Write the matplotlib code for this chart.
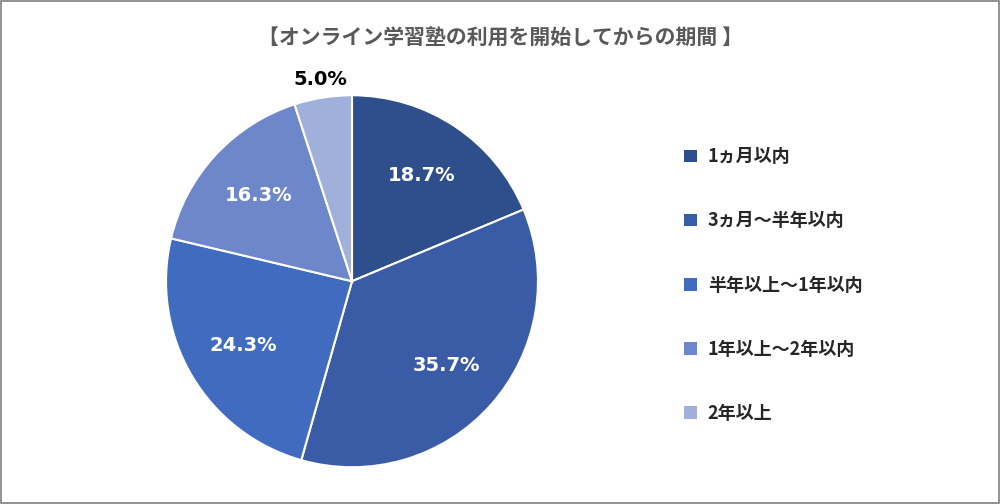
import matplotlib
matplotlib.use("Agg")
import matplotlib.pyplot as plt
from matplotlib.patches import Rectangle, Patch
import numpy as np

plt.rcParams['font.family'] = 'Noto Sans CJK JP'

categories = ["1ヵ月以内", "3ヵ月～半年以内", "半年以上～1年以内", "1年以上～2年以内", "2年以上"]
values = [18.7, 35.7, 24.3, 16.3, 5.0]
colors = ["#2E4F8C", "#3A5CA6", "#416BBF", "#6E87CB", "#A1AFDB"]
title = "【オンライン学習塾の利用を開始してからの期間 】"

fig = plt.figure(figsize=(10, 5.04), dpi=100)
fig.patches.append(Rectangle((0.001, 0.002), 0.998, 0.996, transform=fig.transFigure,
                             fill=False, edgecolor="#7f7f7f", linewidth=1.2))
fig.text(0.5, 0.925, title, ha="center", va="center", fontsize=15,
         fontweight="bold", color="#595959")

ax = fig.add_axes([0.352 - 0.186, 0.442 - 0.369, 0.372, 0.738])
wedges, _ = ax.pie(values, colors=colors, startangle=90, counterclock=False,
                   wedgeprops=dict(edgecolor="white", linewidth=1.5))
ang = 90.0
for w, v in zip(wedges, values):
    mid = np.deg2rad(ang - v * 3.6 / 2)
    ang -= v * 3.6
    if v < 8:
        r, col = 1.1, "black"
    else:
        r, col = 0.68, "white"
    ax.text(r * np.cos(mid), r * np.sin(mid), f"{v:.1f}%", ha="center", va="center",
            fontsize=14, fontweight="bold", color=col, fontfamily="DejaVu Sans")
ax.set_xlim(-1, 1)
ax.set_ylim(-1, 1)
ax.set_aspect("equal")

handles = [Patch(facecolor=c, edgecolor="none") for c in colors]
leg = fig.legend(handles, categories, loc="upper left", bbox_to_anchor=(0.668, 0.74),
                 frameon=False, labelspacing=2.5, handlelength=0.7, handleheight=0.7,
                 handletextpad=0.6, prop=dict(size=13, weight="bold"))
for t in leg.get_texts():
    t.set_color("#262626")

fig.savefig("out.png", dpi=100)
